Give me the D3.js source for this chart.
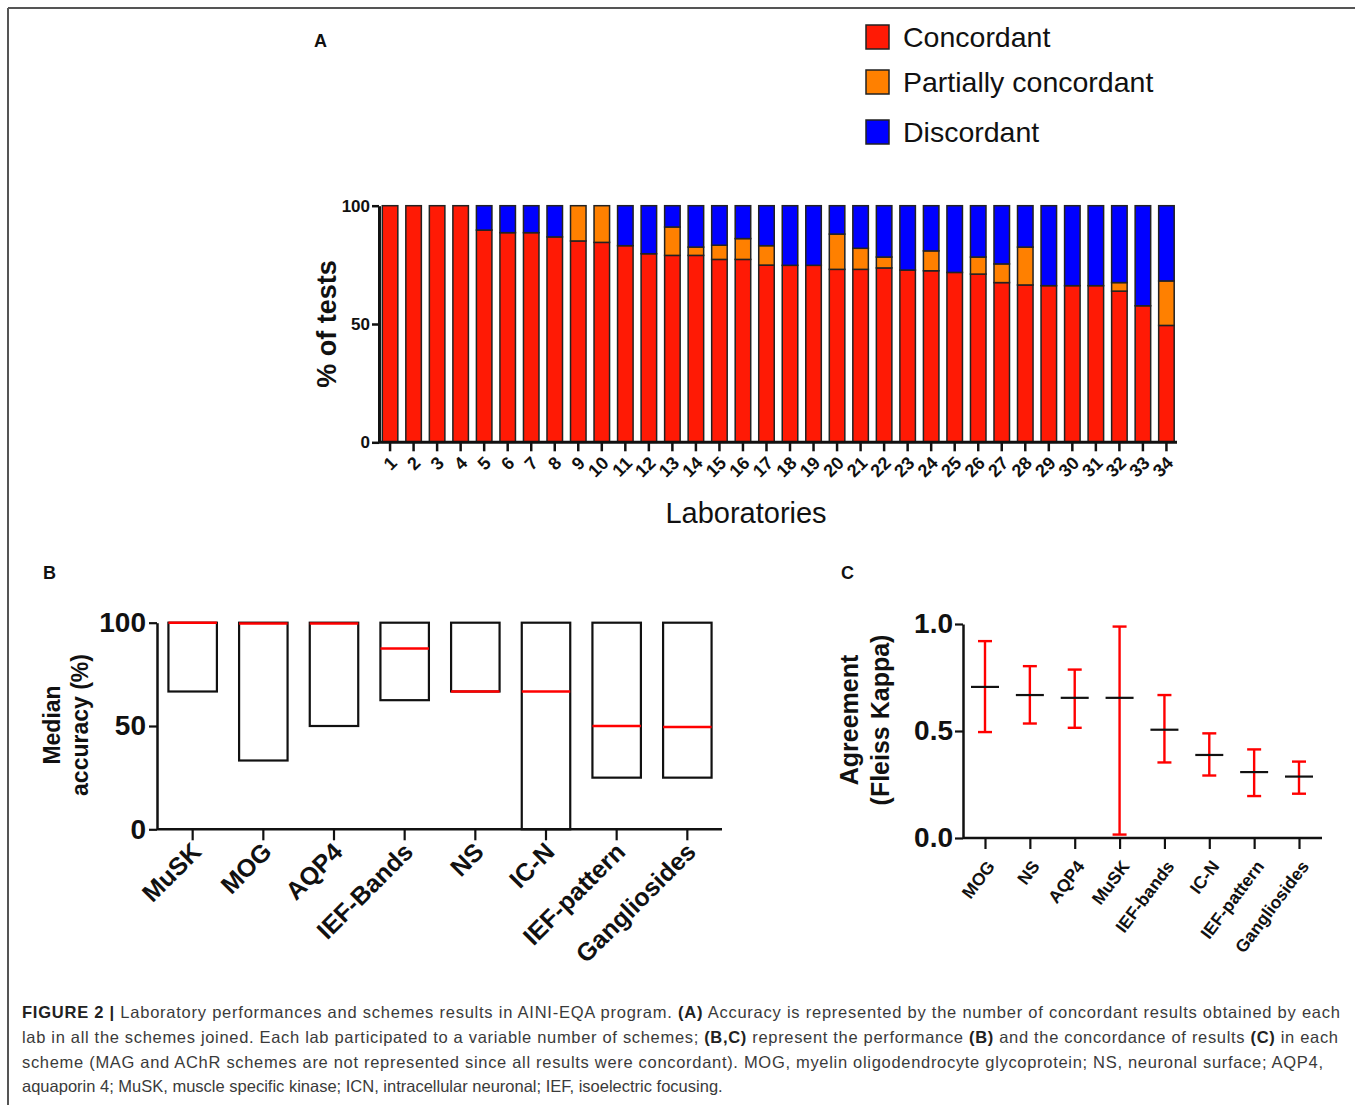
<!DOCTYPE html>
<html>
<head>
<meta charset="utf-8">
<script src="https://cdn.jsdelivr.net/npm/d3@7"></script>
<style>
  html, body { margin: 0; padding: 0; background: #fff; }
  svg { display: block; }
  text { font-family: "Liberation Sans", Arial, Helvetica, sans-serif; }
</style>
</head>
<body>
<svg id="chart" width="1355" height="1105"></svg>
<script>
// ---------------- Data ----------------
// Panel A
const labs = d3.range(1, 35).map(String);
const seriesNames = ["Concordant", "Partially concordant", "Discordant"];
const seriesColors = ["#ff1a05", "#ff8000", "#0000ff"];
const concordant = [100,100,100,100,89.7,88.6,88.6,86.8,85.1,84.5,83.1,79.7,79.0,79.0,77.3,77.3,
                    74.9,74.8,74.8,73.1,73.1,73.7,72.8,72.5,71.8,71.1,67.5,66.5,66.2,66.2,66.2,63.9,57.7,49.4];
const partial    = [0,0,0,0,0,0,0,0,14.9,15.5,0,0,12.0,3.5,6.0,8.8,
                    8.2,0,0,14.9,8.9,4.6,0,8.4,0,7.2,7.9,16.0,0,0,0,3.6,0,18.8];
const discordant = [0,0,0,0,10.3,11.4,11.4,13.2,0,0,16.9,20.3,9.0,17.5,16.7,13.9,
                    16.9,25.2,25.2,12.0,18.0,21.7,27.2,19.1,28.2,21.7,24.6,17.5,33.8,33.8,33.8,32.5,42.3,31.8];
const ticksA = [0, 50, 100];

// Panel B
const schemesB = ["MuSK", "MOG", "AQP4", "IEF-Bands", "NS", "IC-N", "IEF-pattern", "Gangliosides"];
const minB     = [66.7, 33.3, 50, 62.5, 66.7, 0, 25, 25];
const maxB     = [100, 100, 100, 100, 100, 100, 100, 100];
const medianB  = [100, 99.6, 99.6, 87.5, 66.7, 66.7, 50, 49.5];
const ticksB = [0, 50, 100];

// Panel C
const schemesC = ["MOG", "NS", "AQP4", "MuSK", "IEF-bands", "IC-N", "IEF-pattern", "Gangliosides"];
const kappa    = [0.706, 0.668, 0.655, 0.655, 0.506, 0.388, 0.308, 0.287];
const lowC     = [0.495, 0.535, 0.515, 0.016, 0.353, 0.292, 0.196, 0.207];
const highC    = [0.920, 0.803, 0.787, 0.988, 0.668, 0.489, 0.414, 0.357];
const ticksC = [0.0, 0.5, 1.0];

// Caption
const captionLines = [
  [["FIGURE 2 | ", true], ["Laboratory performances and schemes results in AINI-EQA program. ", false], ["(A)", true], [" Accuracy is represented by the number of concordant results obtained by each", false]],
  [["lab in all the schemes joined. Each lab participated to a variable number of schemes; ", false], ["(B,C)", true], [" represent the performance ", false], ["(B)", true], [" and the concordance of results ", false], ["(C)", true], [" in each", false]],
  [["scheme (MAG and AChR schemes are not represented since all results were concordant). MOG, myelin oligodendrocyte glycoprotein; NS, neuronal surface; AQP4,", false]],
  [["aquaporin 4; MuSK, muscle specific kinase; ICN, intracellular neuronal; IEF, isoelectric focusing.", false]]
];

// ---------------- Drawing ----------------
const svg = d3.select("#chart");

// frame
svg.append("line").attr("x1", 8).attr("y1", 8).attr("x2", 1355).attr("y2", 8)
   .attr("stroke", "#555").attr("stroke-width", 2);
svg.append("line").attr("x1", 8).attr("y1", 8).attr("x2", 8).attr("y2", 1105)
   .attr("stroke", "#555").attr("stroke-width", 2);

function panelLabel(t, x, y) {
  svg.append("text").attr("x", x).attr("y", y).text(t)
     .attr("font-size", 18).attr("font-weight", "bold").attr("fill", "#111");
}
panelLabel("A", 314, 47);
panelLabel("B", 43, 579);
panelLabel("C", 841, 579);

// ===== Panel A =====
(function() {
  const x = d3.scaleBand().domain(labs).range([382.3, 1174.2]).paddingInner(0.34).paddingOuter(0);
  const y = d3.scaleLinear().domain([0, 100]).range([442.3, 205.7]);
  const rows = labs.map((l, i) => ({lab: l, Concordant: concordant[i], "Partially concordant": partial[i], Discordant: discordant[i]}));
  const stack = d3.stack().keys(seriesNames)(rows);
  const g = svg.append("g");
  stack.forEach((s, si) => {
    g.append("g").selectAll("rect").data(s.filter(d => d[1] - d[0] > 0)).join("rect")
      .attr("x", d => x(d.data.lab))
      .attr("width", x.bandwidth())
      .attr("y", d => y(d[1]))
      .attr("height", d => y(d[0]) - y(d[1]))
      .attr("fill", seriesColors[si])
      .attr("stroke", "#222").attr("stroke-width", 1.5);
  });
  // y axis
  const ya = g.append("g").attr("transform", "translate(379,0)")
    .call(d3.axisLeft(y).tickValues(ticksA).tickSize(7).tickSizeOuter(0).tickPadding(2));
  ya.select(".domain").attr("stroke-width", 3).attr("stroke", "#111");
  ya.selectAll(".tick line").attr("stroke-width", 2.5).attr("stroke", "#111");
  ya.selectAll(".tick text").attr("font-size", 17).attr("font-weight", "bold").attr("fill", "#111")
    .attr("font-family", "Liberation Sans, Arial, sans-serif");
  // x axis
  const xa = g.append("g").attr("transform", "translate(0,442.3)")
    .call(d3.axisBottom(x).tickSize(9).tickSizeOuter(0).tickPadding(0));
  xa.select(".domain").attr("d", "M378,0H1177").attr("stroke-width", 3).attr("stroke", "#111");
  xa.selectAll(".tick line").attr("stroke-width", 2.5).attr("stroke", "#111");
  xa.selectAll(".tick text")
    .attr("font-size", 18).attr("font-weight", "bold").attr("fill", "#111")
    .attr("font-family", "Liberation Sans, Arial, sans-serif")
    .attr("text-anchor", "end").attr("dy", "0.75em")
    .attr("transform", "translate(-8,6) rotate(-45)");
  // axis titles
  g.append("text").attr("transform", "translate(336,324) rotate(-90)")
    .attr("text-anchor", "middle").attr("font-size", 27).attr("font-weight", "bold").attr("fill", "#111")
    .text("% of tests");
  g.append("text").attr("x", 746).attr("y", 523).attr("text-anchor", "middle")
    .attr("font-size", 29).attr("fill", "#111").text("Laboratories");
  // legend
  const legY = [37, 82, 132];
  seriesNames.forEach((n, i) => {
    g.append("rect").attr("x", 866).attr("y", legY[i] - 12).attr("width", 23).attr("height", 24)
      .attr("fill", seriesColors[i]).attr("stroke", "#222").attr("stroke-width", 1.5);
    g.append("text").attr("x", 903).attr("y", legY[i]).attr("dy", "0.36em")
      .attr("font-size", 28.5).attr("fill", "#111").text(n);
  });
})();

// ===== Panel B =====
(function() {
  const x = d3.scaleBand().domain(schemesB).range([155, 725]).paddingInner(0.314).paddingOuter(0.19);
  const y = d3.scaleLinear().domain([0, 100]).range([829.3, 622.7]);
  const g = svg.append("g");
  const rows = schemesB.map((s, i) => ({s, lo: minB[i], hi: maxB[i], med: medianB[i]}));
  g.selectAll("rect.box").data(rows).join("rect").attr("class", "box")
    .attr("x", d => x(d.s)).attr("width", x.bandwidth())
    .attr("y", d => y(d.hi)).attr("height", d => y(d.lo) - y(d.hi))
    .attr("fill", "none").attr("stroke", "#111").attr("stroke-width", 2.2);
  g.selectAll("line.med").data(rows).join("line").attr("class", "med")
    .attr("x1", d => x(d.s)).attr("x2", d => x(d.s) + x.bandwidth())
    .attr("y1", d => y(d.med)).attr("y2", d => y(d.med))
    .attr("stroke", "#ff0000").attr("stroke-width", 2.6);
  const ya = g.append("g").attr("transform", "translate(157,0)")
    .call(d3.axisLeft(y).tickValues(ticksB).tickSize(8).tickSizeOuter(0).tickPadding(3));
  ya.select(".domain").attr("stroke-width", 2.5).attr("stroke", "#111");
  ya.selectAll(".tick line").attr("stroke-width", 2.2).attr("stroke", "#111");
  ya.selectAll(".tick text").attr("font-size", 28).attr("font-weight", "bold").attr("fill", "#111")
    .attr("font-family", "Liberation Sans, Arial, sans-serif");
  const xa = g.append("g").attr("transform", "translate(0,829.3)")
    .call(d3.axisBottom(x).tickSize(11).tickSizeOuter(0).tickPadding(0));
  xa.select(".domain").attr("d", "M157,0H722").attr("stroke-width", 2.5).attr("stroke", "#111");
  xa.selectAll(".tick line").attr("stroke-width", 2.2).attr("stroke", "#111");
  xa.selectAll(".tick text")
    .attr("font-size", 25).attr("font-weight", "bold").attr("fill", "#111")
    .attr("font-family", "Liberation Sans, Arial, sans-serif")
    .attr("text-anchor", "end").attr("dy", "0.75em")
    .attr("transform", "translate(-11,3) rotate(-45)");
  const t = g.append("text").attr("transform", "translate(66,725) rotate(-90)")
    .attr("text-anchor", "middle").attr("font-size", 23).attr("font-weight", "bold").attr("fill", "#111");
  t.append("tspan").attr("x", 0).attr("dy", "-0.25em").text("Median");
  t.append("tspan").attr("x", 0).attr("dy", "1.2em").text("accuracy (%)");
})();

// ===== Panel C =====
(function() {
  const x = d3.scalePoint().domain(schemesC).range([985, 1299]);
  const y = d3.scaleLinear().domain([0, 1]).range([838, 624]);
  const g = svg.append("g");
  const rows = schemesC.map((s, i) => ({s, k: kappa[i], lo: lowC[i], hi: highC[i]}));
  const cx = d => x(d.s);
  g.selectAll("line.err").data(rows).join("line").attr("class", "err")
    .attr("x1", cx).attr("x2", cx).attr("y1", d => y(d.lo)).attr("y2", d => y(d.hi))
    .attr("stroke", "#ff0000").attr("stroke-width", 2.4);
  ["lo", "hi"].forEach(k => {
    g.selectAll("line.cap" + k).data(rows).join("line").attr("class", "cap" + k)
      .attr("x1", d => cx(d) - 7).attr("x2", d => cx(d) + 7)
      .attr("y1", d => y(d[k])).attr("y2", d => y(d[k]))
      .attr("stroke", "#ff0000").attr("stroke-width", 2.4);
  });
  g.selectAll("line.mean").data(rows).join("line").attr("class", "mean")
    .attr("x1", d => cx(d) - 14).attr("x2", d => cx(d) + 14)
    .attr("y1", d => y(d.k)).attr("y2", d => y(d.k))
    .attr("stroke", "#111").attr("stroke-width", 2.2);
  const ya = g.append("g").attr("transform", "translate(963,0)")
    .call(d3.axisLeft(y).tickValues(ticksC).tickFormat(d3.format(".1f")).tickSize(8).tickSizeOuter(0).tickPadding(2));
  ya.select(".domain").attr("stroke-width", 2.5).attr("stroke", "#111");
  ya.selectAll(".tick line").attr("stroke-width", 2.2).attr("stroke", "#111");
  ya.selectAll(".tick text").attr("font-size", 28).attr("font-weight", "bold").attr("fill", "#111")
    .attr("font-family", "Liberation Sans, Arial, sans-serif");
  const xa = g.append("g").attr("transform", "translate(0,838)")
    .call(d3.axisBottom(x).tickSize(11).tickSizeOuter(0).tickPadding(0));
  xa.select(".domain").attr("d", "M963,0H1322").attr("stroke-width", 2.5).attr("stroke", "#111");
  xa.selectAll(".tick line").attr("stroke-width", 2.2).attr("stroke", "#111");
  xa.selectAll(".tick text")
    .attr("font-size", 17.5).attr("font-weight", "bold").attr("fill", "#111")
    .attr("font-family", "Liberation Sans, Arial, sans-serif")
    .attr("text-anchor", "end").attr("dy", "0.75em")
    .attr("transform", "translate(-9,14) rotate(-53)");
  const t = g.append("text").attr("transform", "translate(864,720) rotate(-90)")
    .attr("text-anchor", "middle").attr("font-size", 25).attr("font-weight", "bold").attr("fill", "#111");
  t.append("tspan").attr("x", 0).attr("dy", "-0.25em").text("Agreement");
  t.append("tspan").attr("x", 0).attr("dy", "1.25em").text("(Fleiss Kappa)");
})();

// ===== Caption =====
(function() {
  const baseY = [1018, 1043, 1068, 1092];
  const widths = [1318, 1316, 1301, null];
  captionLines.forEach((parts, i) => {
    const t = svg.append("text").attr("x", 22).attr("y", baseY[i])
      .attr("font-size", 16.5).attr("fill", "#3a3a3a");
    parts.forEach(([s, b]) => {
      t.append("tspan").text(s).attr("font-weight", b ? "bold" : "normal").attr("fill", b ? "#222" : "#3a3a3a");
    });
    if (widths[i]) t.attr("textLength", widths[i]).attr("lengthAdjust", "spacing");
  });
})();
</script>
</body>
</html>
